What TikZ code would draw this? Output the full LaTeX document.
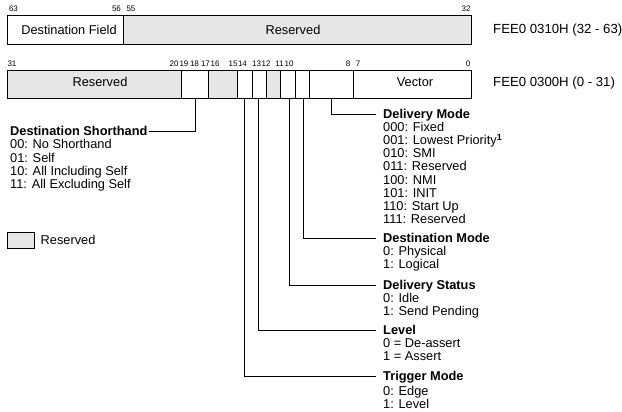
\documentclass[tikz,border=0pt]{standalone}
\usepackage{fontspec}
\setmainfont{Liberation Sans}
\usetikzlibrary{positioning}
\definecolor{resgray}{RGB}{230,230,230}

\begin{document}
\begin{tikzpicture}[x=1pt,y=-1pt,
		reg/.style={draw=black,line width=0.9pt},
		res/.style={fill=resgray},
		bitno/.style={inner sep=0pt,anchor=base,font=\fontsize{8}{9}\selectfont},
		txt/.style={inner sep=0pt,font=\fontsize{12.8}{13.2}\selectfont},
		addr/.style={inner sep=0pt,anchor=base west,font=\fontsize{13.2}{14}\selectfont},
		head/.style={inner sep=0pt,anchor=base west,text height=9.5pt,text depth=2pt,font=\fontsize{12.8}{13.2}\selectfont\bfseries},
		lst/.style={txt,align=left},
		lead/.style={line width=0.9pt}]
		\useasboundingbox (0,0) rectangle (622,412);
		
		% upper half, bits 63 - 32
		\filldraw[reg,res] (123,15) rectangle (471,44);
		\draw[reg] (7,15) rectangle (123,44);
		\node[txt] (dfield) at (69,30) {Destination Field};
		\node[txt] (hires) at (293,30) {Reserved};
		\foreach \x/\n in {13.5/63,116.5/56,131/55,466/32}
			\node[bitno] (top\n) at (\x,12) {\n};
		\node[addr] (hiaddr) at (493,33.3) {FEE0 0310H (32 - 63)};
		
		% lower half, bits 31 - 0
		\fill[res] (7,70) rectangle (181,98) (208.7,70) rectangle (237.7,98) (266.7,70) rectangle (280.7,98);
		\draw[reg] (7,70) rectangle (471,98);
		\foreach \x in {181,208.7,237.7,252.3,266.7,280.7,295.7,309.3,353.7}
			\draw[reg] (\x,70) -- (\x,98);
		\foreach \x/\n in {12/31,174/20,184/19,194.5/18,205.5/17,215/16,233/15,242.5/14,256.5/13,266/12,279.5/11,289/10,348/8,358/7,468/0}
			\node[bitno] (low\n) at (\x,66.5) {\n};
		\node[txt] (lores) at (100,82) {Reserved};
		\node[txt] (vec) at (415,82) {Vector};
		\node[addr] (loaddr) at (493,87) {FEE0 0300H (0 - 31)};
		
		\coordinate (dsfoot) at (195.6,98);
		\coordinate (tmfoot) at (244.8,98);
		\coordinate (lvfoot) at (258.6,98);
		\coordinate (dstfoot) at (289.2,98);
		\coordinate (dmfoot) at (303,98);
		\coordinate (dlfoot) at (331.7,98);
		
		% destination shorthand
		\node[head] (dsh) at (10,135.6) {Destination Shorthand};
		\node[lst,below right=1.7pt and 0pt of dsh.south west] (dshlist) {00: No Shorthand\\01: Self\\10: All Including Self\\11: All Excluding Self};
		\draw[lead,shorten >=1pt] (dsfoot) |- (dsh.east);
		
		% right column
		\node[head] (dlm) at (383,118) {Delivery Mode};
		\node[lst,below right=1.7pt and 0pt of dlm.south west] (dlmlist) {000: Fixed\\001: Lowest Priority\textsuperscript{\textbf{1}}\\010: SMI\\011: Reserved\\100: NMI\\101: INIT\\110: Start Up\\111: Reserved};
		\node[head] (dsm) at (383,242) {Destination Mode};
		\node[lst,below right=1.7pt and 0pt of dsm.south west] (dsmlist) {0: Physical\\1: Logical};
		\node[head] (dst) at (383,289) {Delivery Status};
		\node[lst,below right=1.7pt and 0pt of dst.south west] (dstlist) {0: Idle\\1: Send Pending};
		\node[head] (lvl) at (383,334.6) {Level};
		\node[lst,below right=1.7pt and 0pt of lvl.south west] (lvllist) {0 = De-assert\\1 = Assert};
		\node[head] (trg) at (383,380.3) {Trigger Mode};
		\node[lst,below right=3.7pt and 0pt of trg.south west] (trglist) {0: Edge\\1: Level};
		
		\draw[lead,shorten >=7.5pt] (dlfoot) |- (dlm.west);
		\draw[lead,shorten >=7.5pt] (dmfoot) |- (dsm.west);
		\draw[lead,shorten >=7.5pt] (dstfoot) |- (dst.west);
		\draw[lead,shorten >=7.5pt] (lvfoot) |- (lvl.west);
		\draw[lead,shorten >=7.5pt] (tmfoot) |- (trg.west);
		
		% legend
		\node[reg,res,minimum width=27pt,minimum height=16pt,inner sep=0pt] (legbox) at (20.5,240) {};
		\node[txt,right=6pt of legbox] (legtxt) {Reserved};
\end{tikzpicture}
\end{document}
